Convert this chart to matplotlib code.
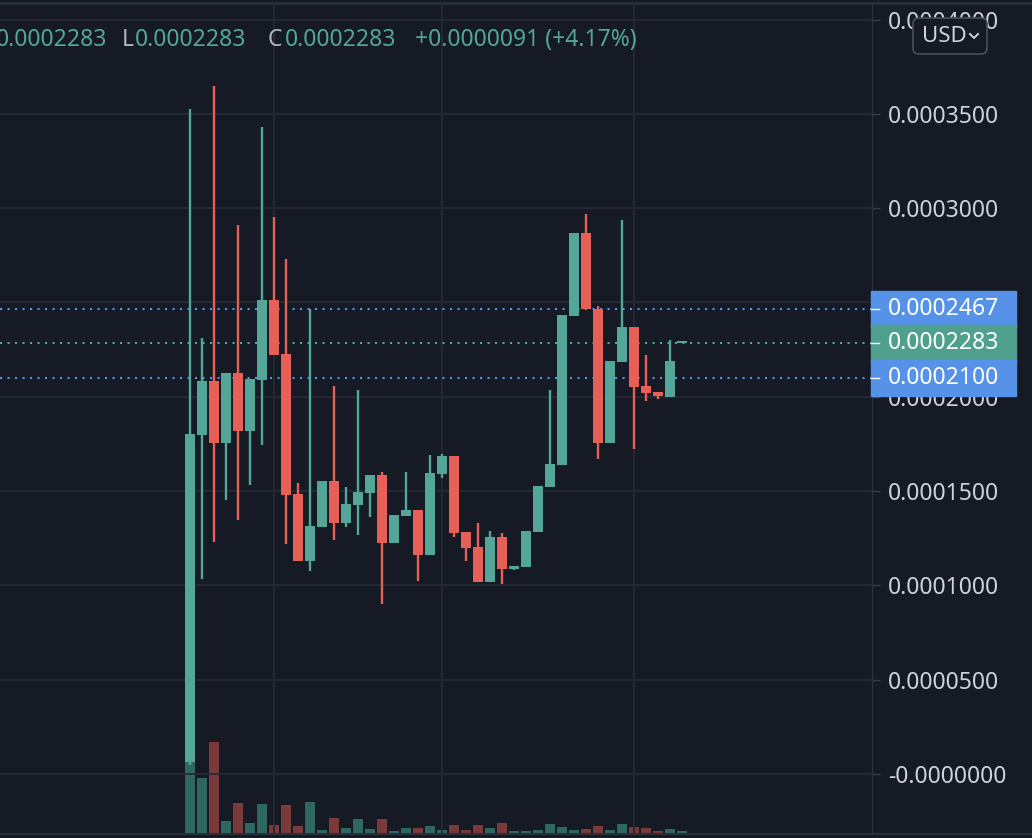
import matplotlib
matplotlib.use("Agg")
import matplotlib.pyplot as plt
from matplotlib.patches import Rectangle, FancyBboxPatch
from matplotlib.ticker import MultipleLocator, FuncFormatter

plt.rcParams['font.family'] = ['Noto Sans', 'DejaVu Sans']

# candles, prices in units of 1e-7 USD
opens = [64, 1798, 2085, 1755, 2128, 1819, 2090, 2511, 2229, 1484,
         1128, 1309, 1553, 1330, 1426, 1489, 1585, 1223, 1367, 1399,
         1160, 1590, 1686, 1282, 1202, 1016, 1255, 1085, 1096, 1282,
         1521, 1638, 2431, 2867, 2463, 1755, 2186, 2372, 2058, 2027,
         2000, 2283]
highs = [3527, 2314, 3649, 2128, 2910, 2096, 3431, 2952, 2729, 1543,
         2463, 1553, 2058, 1521, 2037, 1585, 1601, 1372, 1601, 1399,
         1691, 1697, 1686, 1282, 1330, 1287, 1277, 1101, 1287, 1527,
         2037, 2436, 2867, 2968, 2484, 2192, 2936, 2372, 2223, 2027,
         2303, 2283]
lows = [50, 1032, 1229, 1452, 1346, 1532, 1745, 2223, 1218, 1128,
        1074, 1309, 1239, 1309, 1266, 1362, 904, 1223, 1367, 1021,
        1160, 1569, 1255, 1128, 1016, 1016, 1005, 1080, 1096, 1282,
        1521, 1638, 2431, 2468, 1670, 1755, 2186, 1723, 1979, 1989,
        2000, 2283]
closes = [1803, 2085, 1755, 2128, 1819, 2096, 2511, 2223, 1479, 1128,
          1314, 1553, 1330, 1431, 1495, 1585, 1223, 1372, 1399, 1160,
          1596, 1686, 1277, 1197, 1016, 1255, 1085, 1101, 1287, 1527,
          1644, 2436, 2867, 2468, 1755, 2192, 2372, 2053, 2021, 2005,
          2192, 2283]
volumes = [100, 55, 91, 12, 30, 10, 29, 8, 28, 7,
           31, 3, 15, 5, 14, 4, 14, 2, 5, 5,
           7, 3, 8, 3, 8, 5, 10, 2, 2, 3,
           9, 6, 3, 4, 7, 3, 9, 6, 5, 2,
           4, 2]
time_grid = [7, 21, 37]
blue_levels = [2467, 2100]
last_level = 2283
unit = 1e-7

header = [("0.0002283", "value"), ("L", "label"), ("0.0002283", "value"),
          ("C", "label"), ("0.0002283", "value"), ("+0.0000091 (+4.17%)", "value")]
header_x = [107, 122, 135, 268, 285, 415]

bg = '#161a25'
grid_c = '#262a35'
up_c = '#53a698'
down_c = '#e66058'
up_vol = '#2e6861'
down_vol = '#7a3a3a'
blue_c = '#5592e8'
tag_green = '#4fa18e'
text_c = '#cfd2da'

W, H = 1032, 838
fig = plt.figure(figsize=(W / 100, H / 100), dpi=100, facecolor=bg)
rect = [0, 1 - 833 / H, 872 / W, (833 - 4) / H]

x = list(range(len(opens)))
xlim = (-190 / 12, 682 / 12)

# volume pane underneath
axv = fig.add_axes(rect, facecolor=bg)
up = [c >= o for o, c in zip(opens, closes)]
axv.bar(x, volumes, width=0.82, color=[up_vol if u else down_vol for u in up])
axv.set_xlim(*xlim)
axv.set_ylim(0, 829)
axv.axis('off')

# price pane
ax = fig.add_axes(rect, facecolor='none')
ax.set_zorder(2)
ax.set_xlim(*xlim)
ax.set_ylim((774 - 833) / 1.886e6, (774 - 4) / 1.886e6)

ax.yaxis.set_major_locator(MultipleLocator(5e-5))
ax.yaxis.set_major_formatter(FuncFormatter(
    lambda v, p: '-0.0000000' if abs(v) < 1e-12 else f'{v:.7f}'))
ax.set_xticks(time_grid)
ax.yaxis.tick_right()
ax.tick_params(axis='y', length=5.8, width=1, color='#3a3e4a', pad=5.5,
               labelsize=16.5, labelcolor=text_c)
ax.tick_params(axis='x', length=0, labelbottom=False)
ax.grid(True, color=grid_c, lw=1.3, zorder=0)
ax.set_axisbelow(True)
for s in ['top', 'left', 'bottom']:
    ax.spines[s].set_visible(False)
ax.spines['right'].set_color('#2f333e')

o = [v * unit for v in opens]
h = [v * unit for v in highs]
l = [v * unit for v in lows]
c = [v * unit for v in closes]
cols = [up_c if u else down_c for u in up]
ax.vlines(x, l, h, colors=cols, lw=1.7, zorder=3)
bottoms = [min(a, b) for a, b in zip(o, c)]
heights = [max(abs(b - a), 1.2e-6) for a, b in zip(o, c)]
ax.bar(x, heights, bottom=bottoms, width=0.82, color=cols, zorder=4)

dots = (0, (1, 2.6))
for lv in blue_levels:
    ax.axhline(lv * unit, color=blue_c, lw=1.5, ls=dots, zorder=2)
ax.axhline(last_level * unit, color=up_c, lw=1.5, ls=dots, zorder=2)

# overlay in pixel coordinates
ov = fig.add_axes([0, 0, 1, 1], facecolor='none')
ov.set_zorder(5)
ov.set_xlim(0, W)
ov.set_ylim(H, 0)
ov.axis('off')


def to_px(price):
    d = ax.transData.transform((0, price))
    return ov.transData.inverted().transform(d)[1]


tags = [(blue_levels[0], blue_c), (last_level, tag_green), (blue_levels[1], blue_c)]
for lv, col in tags:
    yp = to_px(lv * unit)
    ov.add_patch(Rectangle((871, yp - 18), 145, 36, color=col, zorder=5))
    ov.plot([871, 879], [yp, yp], color='white', lw=1, zorder=6)
    ov.text(888, yp, f'{lv * unit:.7f}', color='white', fontsize=16.5,
            ha='left', va='center', zorder=6)

# header line
for (txt, kind), xp in zip(header, header_x):
    ov.text(xp, 40, txt, fontsize=16.5, va='center',
            ha='right' if xp == header_x[0] else 'left',
            color=up_c if kind == 'value' else '#b2b5be')

# currency button
ov.add_patch(FancyBboxPatch((913, 18), 74, 36, boxstyle='round,pad=0,rounding_size=6',
                            fc=bg, ec='#4a4e59', lw=1.2, zorder=7))
ov.text(944, 37, 'USD', color=text_c, fontsize=16, ha='center', va='center', zorder=8)
ov.plot([970, 974, 978], [34, 38, 34], color=text_c, lw=1.4, zorder=8)

# frame lines
ov.plot([0, W], [3, 3], color='#2a2e39', lw=2)
ov.plot([0, W], [833.5, 833.5], color='#2a2e39', lw=1.5)

fig.savefig('out.png', dpi=100, facecolor=bg)
